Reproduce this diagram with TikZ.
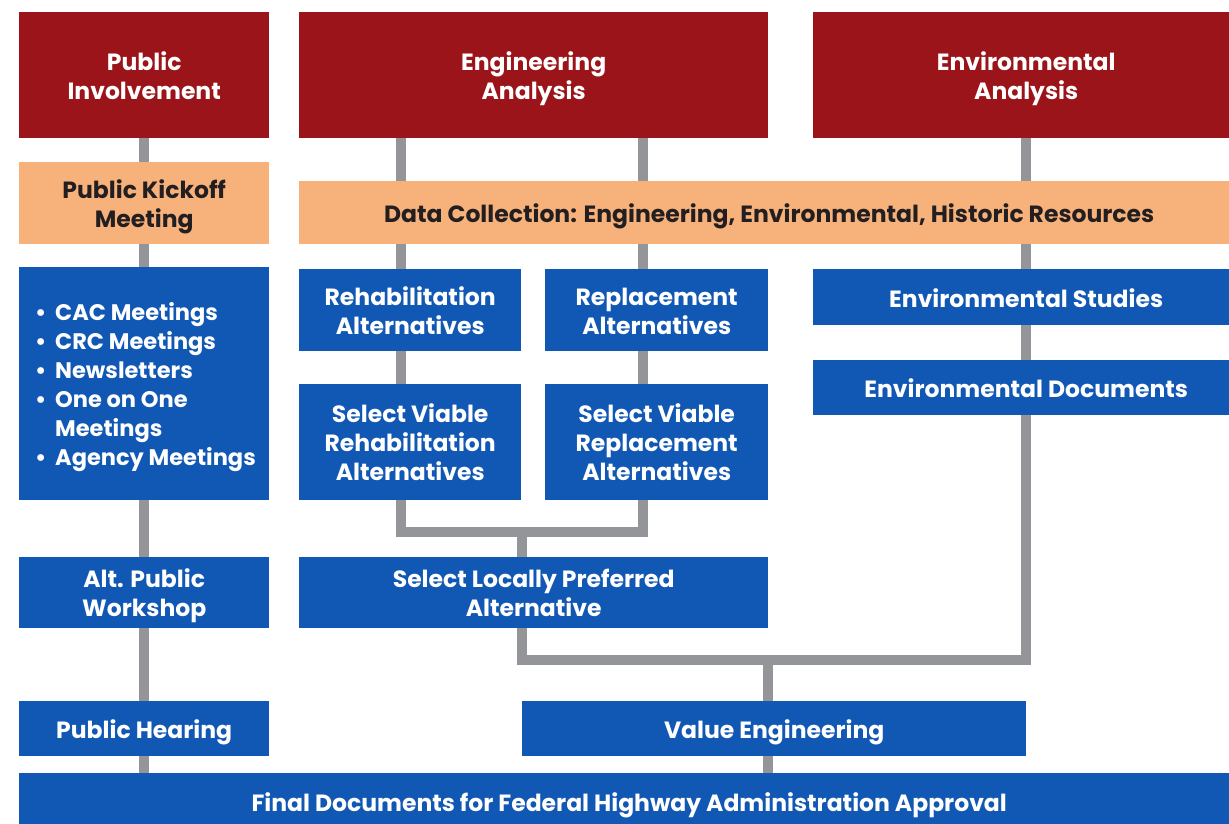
\documentclass[tikz,border=0pt]{standalone}
\usepackage{fontspec}
\setmainfont{Poppins}[BoldFont={Poppins Bold}]
\usetikzlibrary{backgrounds}
\definecolor{hdred}{HTML}{9A1419}
\definecolor{peach}{HTML}{F7B27B}
\definecolor{flowblue}{HTML}{1158B4}
\definecolor{linegray}{HTML}{939598}
\definecolor{darktext}{HTML}{231F20}
\newcommand\boxstrut{\rule[-7pt]{0pt}{34pt}}
\newcommand\topstrut{\rule{0pt}{26pt}}
\tikzset{
  boxfont/.style={font=\bfseries\fontsize{23.5}{29}\selectfont},
  basebox/.style={rectangle, anchor=north west, inner sep=0pt, align=center, boxfont,
    execute at begin node=\boxstrut},
  redbox/.style={basebox, fill=hdred, text=white},
  peachbox/.style={basebox, fill=peach, text=darktext},
  bluebox/.style={basebox, fill=flowblue, text=white},
  conn/.style={draw=linegray, line width=10.5pt, line join=miter}
}
\begin{document}
\begin{tikzpicture}[x=1pt,y=-1pt]
\useasboundingbox (0,0) rectangle (1229,823);
\clip (0,0) rectangle (1229,823);
% header boxes
\node[redbox, minimum width=250pt, minimum height=126pt] (pi) at (19,12) {\topstrut Public\\Involvement};
\node[redbox, minimum width=469pt, minimum height=126pt] (ea) at (299,12) {\topstrut Engineering\\Analysis};
\node[redbox, minimum width=426pt, minimum height=126pt] (en) at (813,12) {\topstrut Environmental\\Analysis};
% peach boxes
\node[peachbox, minimum width=250pt, minimum height=82pt] (pk) at (19,162) {\topstrut Public Kickoff\\Meeting};
\node[peachbox, minimum width=940pt, minimum height=63pt] (dc) at (299,181) {Data Collection: Engineering, Environmental, Historic Resources};
% blue boxes
\node[bluebox, minimum width=250pt, minimum height=233pt] (mt) at (19,267) {};
\node[anchor=base west, text=white, font=\bfseries\fontsize{22.5}{29}\selectfont, inner sep=0pt] (mtl) at (35,320)
  {\begin{tabular}[t]{@{}l@{}l@{}}
   \makebox[20pt][l]{•}&CAC Meetings\\ •&CRC Meetings\\ •&Newsletters\\ •&One on One\\ &Meetings\\ •&Agency Meetings
   \end{tabular}};
\node[bluebox, minimum width=222pt, minimum height=82pt] (rh) at (299,269) {\topstrut Rehabilitation\\Alternatives};
\node[bluebox, minimum width=223pt, minimum height=82pt] (rp) at (545,269) {\topstrut Replacement\\Alternatives};
\node[bluebox, minimum width=426pt, minimum height=56pt] (es) at (813,269) {Environmental Studies};
\node[bluebox, minimum width=426pt, minimum height=55pt] (ed) at (813,360) {Environmental Documents};
\node[bluebox, minimum width=222pt, minimum height=116pt] (vrh) at (299,384) {\topstrut Select Viable\\Rehabilitation\\Alternatives};
\node[bluebox, minimum width=223pt, minimum height=116pt] (vrp) at (545,384) {\topstrut Select Viable\\Replacement\\Alternatives};
\node[bluebox, minimum width=250pt, minimum height=71pt] (aw) at (19,557) {\topstrut Alt. Public\\Workshop};
\node[bluebox, minimum width=469pt, minimum height=71pt] (lp) at (299,557) {\topstrut Select Locally Preferred\\Alternative};
\node[bluebox, minimum width=250pt, minimum height=55pt] (ph) at (19,701) {Public Hearing};
\node[bluebox, minimum width=504pt, minimum height=55pt] (ve) at (522,701) {Value Engineering};
\node[bluebox, minimum width=1220pt, minimum height=52pt, text height=27pt, text depth=2pt] (fd) at (19,773) {Final Documents for Federal Highway Administration Approval};
% connector coordinates
\coordinate (rhx) at (401,532);
\coordinate (rpx) at (643,532);
\coordinate (lpx) at (522,532);
\coordinate (lpy) at (522,660);
\coordinate (enx) at (1026,660);
\coordinate (vex) at (768,660);
\begin{scope}[on background layer]
  \draw[conn] (pi.south) -- (pi.south |- fd.north);
  \draw[conn] (ea.south -| rhx) -- (rhx) -- (rpx) -- (ea.south -| rpx);
  \draw[conn] (lpx) -- (lpy) -- (enx) -- (en.south -| enx);
  \draw[conn] (vex) -- (vex |- fd.north);
\end{scope}
\end{tikzpicture}
\end{document}
